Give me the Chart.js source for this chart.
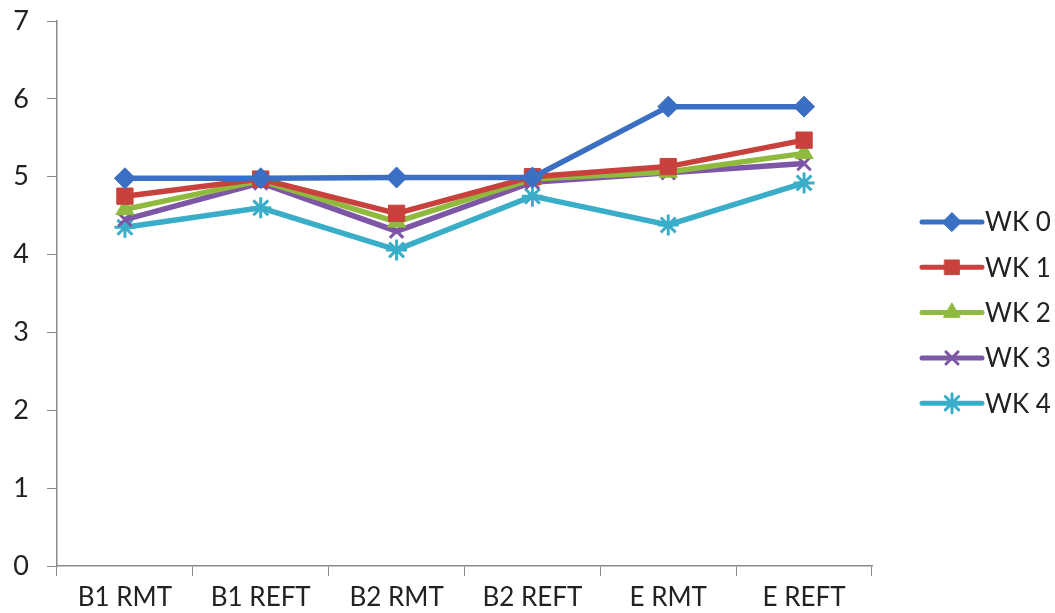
<!DOCTYPE html>
<html>
<head>
<meta charset="utf-8">
<script src="https://cdn.jsdelivr.net/npm/chart.js@4/dist/chart.umd.min.js"></script>
<style>
  html, body { margin: 0; padding: 0; background: #fff; }
  #wrap { width: 1055px; height: 613px; }
</style>
</head>
<body>
<div id="wrap"><canvas id="c" width="1055" height="613"></canvas></div>
<script>
// Categories and weekly series
const categories = ['B1 RMT', 'B1 REFT', 'B2 RMT', 'B2 REFT', 'E RMT', 'E REFT'];
const seriesNames = ['WK 0', 'WK 1', 'WK 2', 'WK 3', 'WK 4'];
const wk0 = [4.98, 4.98, 4.99, 4.99, 5.90, 5.90];
const wk1 = [4.75, 4.97, 4.53, 5.00, 5.13, 5.47];
const wk2 = [4.58, 4.95, 4.42, 4.97, 5.06, 5.30];
const wk3 = [4.45, 4.92, 4.30, 4.93, 5.05, 5.17];
const wk4 = [4.35, 4.60, 4.06, 4.75, 4.38, 4.92];
const yTicks = [0, 1, 2, 3, 4, 5, 6, 7];

const colors = ['#3a6fc4', '#c8413c', '#8fba3d', '#7d56a6', '#3aaec8'];
const markers = ['rectRot', 'rect', 'triangle', 'crossRot', 'star'];
const radii = [10.5, 11.5, 10.5, 9.5, 10.5];
const values = [wk0, wk1, wk2, wk3, wk4];

const FONT = 'Lato, "Open Sans", sans-serif';

const datasets = values.map((v, i) => ({
  label: seriesNames[i],
  data: v,
  borderColor: colors[i],
  backgroundColor: colors[i],
  pointBackgroundColor: colors[i],
  pointBorderColor: colors[i],
  pointStyle: markers[i],
  pointRadius: radii[i],
  pointBorderWidth: markers[i] === 'crossRot' || markers[i] === 'star' ? 3 : 1,
  borderWidth: 5.5,
  tension: 0,
  fill: false
}));

// Legend drawn at the right: a short line with the series marker on it
const sideLegend = {
  id: 'sideLegend',
  afterDraw(chart) {
    const ctx = chart.ctx;
    const x0 = 922, x1 = 982, top = 222, step = 45.3;
    chart.data.datasets.forEach((ds, i) => {
      const y = top + i * step;
      ctx.save();
      ctx.strokeStyle = ds.borderColor;
      ctx.lineWidth = 5;
      ctx.lineCap = 'round';
      ctx.beginPath();
      ctx.moveTo(x0, y);
      ctx.lineTo(x1, y);
      ctx.stroke();
      ctx.fillStyle = ds.pointBackgroundColor;
      ctx.strokeStyle = ds.pointBorderColor;
      ctx.lineWidth = ds.pointBorderWidth;
      Chart.helpers.drawPoint(ctx, {
        pointStyle: ds.pointStyle,
        radius: ds.pointRadius * 0.9,
        rotation: 0,
        borderWidth: ds.pointBorderWidth
      }, (x0 + x1) / 2, y);
      ctx.fillStyle = '#222';
      ctx.font = '26px ' + FONT;
      ctx.textBaseline = 'middle';
      ctx.textAlign = 'left';
      ctx.fillText(ds.label, x1 + 3, y + 1);
      ctx.restore();
    });
  }
};

new Chart(document.getElementById('c'), {
  type: 'line',
  data: { labels: categories, datasets },
  options: {
    responsive: false,
    animation: false,
    events: [],
    layout: { padding: { left: 10, right: 183, top: 21, bottom: 0 } },
    plugins: {
      legend: { display: false },
      tooltip: { enabled: false }
    },
    scales: {
      x: {
        offset: true,
        grid: {
          offset: true,
          drawOnChartArea: false,
          drawTicks: true,
          tickLength: 10,
          color: '#8a8a8a'
        },
        border: { color: '#8a8a8a', width: 1.5 },
        ticks: {
          color: '#222',
          font: { family: FONT, size: 26 },
          padding: 6,
          maxRotation: 0
        },
        afterFit(scale) { scale.height = 47; }
      },
      y: {
        min: 0,
        max: 7,
        afterBuildTicks(scale) { scale.ticks = yTicks.map(v => ({ value: v })); },
        grid: {
          drawOnChartArea: false,
          drawTicks: true,
          tickLength: 10,
          color: '#8a8a8a'
        },
        border: { color: '#8a8a8a', width: 1.5 },
        ticks: {
          color: '#222',
          font: { family: FONT, size: 27 },
          padding: 18
        },
        afterFit(scale) {
          scale.width = 47;
          scale.paddingTop = 0;
          scale.paddingBottom = 0;
        }
      }
    }
  },
  plugins: [sideLegend]
});
</script>
</body>
</html>
